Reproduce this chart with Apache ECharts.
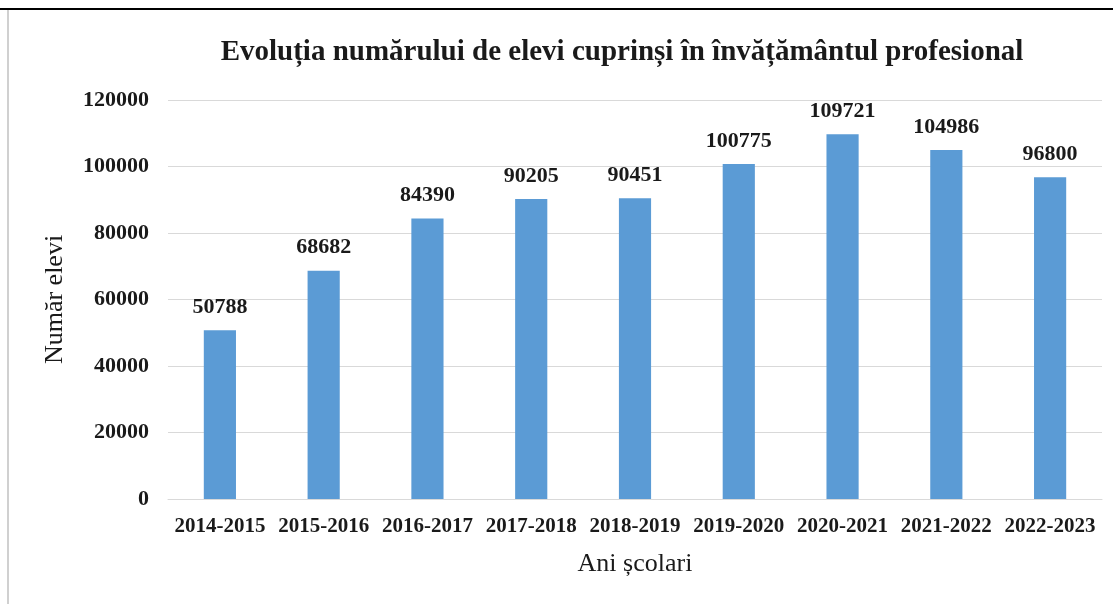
<!DOCTYPE html>
<html>
<head>
<meta charset="utf-8">
<script src="https://cdn.jsdelivr.net/npm/echarts@6/dist/echarts.min.js"></script>
<style>
  html, body { margin: 0; padding: 0; background: #fff; }
  #frame { position: absolute; left: 0; top: 0; width: 1113px; height: 604px; }
  .top-line { position: absolute; left: 0; top: 8px; width: 1113px; height: 2px; background: #000; }
  .left-line { position: absolute; left: 7px; top: 10px; width: 2px; height: 594px; background: #d0d0d0; }
  #chart { position: absolute; left: 9px; top: 10px; width: 1104px; height: 594px; }
</style>
</head>
<body>
<div id="frame">
  <div class="top-line"></div>
  <div class="left-line"></div>
  <div id="chart"></div>
</div>
<script>
const years = ["2014-2015", "2015-2016", "2016-2017", "2017-2018", "2018-2019",
  "2019-2020", "2020-2021", "2021-2022", "2022-2023"];
const students = [50788, 68682, 84390, 90205, 90451, 100775, 109721, 104986, 96800];

const serif = "'Liberation Serif', 'Times New Roman', serif";
const chart = echarts.init(document.getElementById("chart"));
chart.setOption({
  animation: false,
  title: {
    text: "Evoluția numărului de elevi cuprinși în învățământul profesional",
    left: 608,
    textAlign: "center",
    top: 23,
    textStyle: { fontFamily: serif, fontSize: 29, fontWeight: "bold", color: "#1a1a1a" },
  },
  grid: { left: 159, right: 11, top: 90, bottom: 105 },
  xAxis: {
    type: "category",
    data: years,
    name: "Ani școlari",
    nameLocation: "middle",
    nameGap: 52,
    nameTextStyle: { fontFamily: serif, fontSize: 26, color: "#1a1a1a" },
    axisLine: { lineStyle: { color: "#d9d9d9" } },
    axisTick: { show: false },
    axisLabel: {
      interval: 0, hideOverlap: false,
      fontFamily: serif, fontSize: 21, fontWeight: "bold", color: "#1a1a1a", margin: 17,
    },
  },
  yAxis: {
    type: "value",
    min: 0,
    max: 120000,
    interval: 20000,
    name: "Număr elevi",
    nameLocation: "middle",
    nameGap: 100,
    nameTextStyle: { fontFamily: serif, fontSize: 26, color: "#1a1a1a" },
    axisLine: { show: false },
    axisTick: { show: false },
    axisLabel: {
      fontFamily: serif, fontSize: 22, fontWeight: "bold", color: "#1a1a1a", margin: 19,
      formatter: (v) => String(v),
    },
    splitLine: { lineStyle: { color: "#d9d9d9" } },
  },
  series: [
    {
      type: "bar",
      data: students,
      barWidth: "31%",
      itemStyle: { color: "#5B9BD5" },
      label: {
        show: true,
        position: "top",
        distance: 12,
        fontFamily: serif,
        fontSize: 22,
        fontWeight: "bold",
        color: "#1a1a1a",
      },
    },
  ],
});
</script>
</body>
</html>
